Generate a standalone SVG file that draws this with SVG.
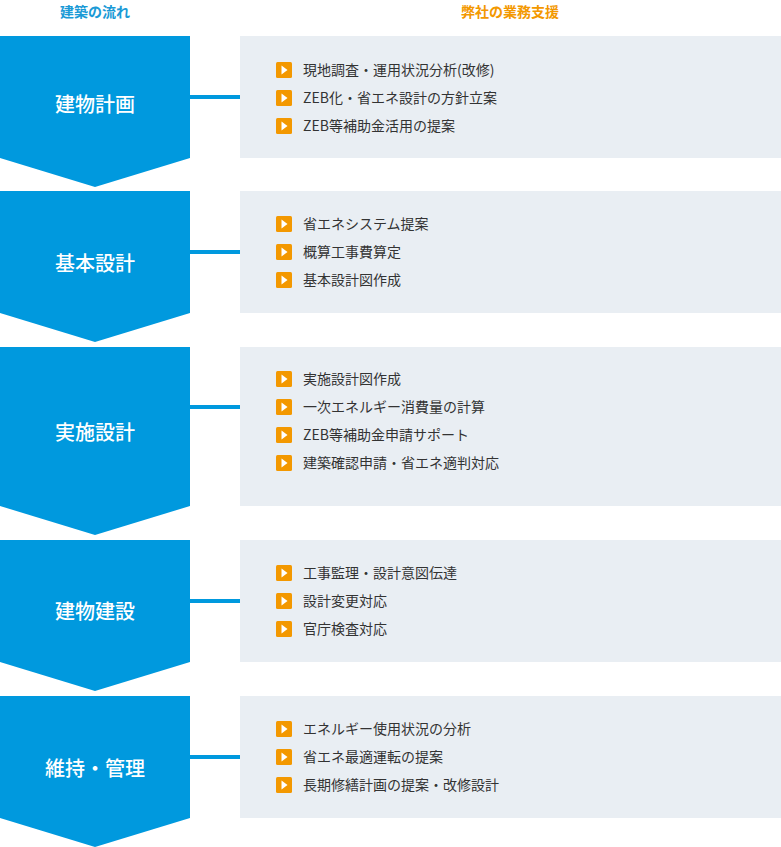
<svg xmlns="http://www.w3.org/2000/svg" width="781" height="847" viewBox="0 0 781 847">
<style>
.a{fill:#0099de}.p{fill:#e9eef3}.t{font-family:"Noto Sans CJK JP","Noto Sans",sans-serif;font-size:20px;fill:#fff;text-anchor:middle;font-weight:500}
.i{font-family:"Noto Sans CJK JP","Noto Sans",sans-serif;font-size:14px;fill:#333}
.h{font-family:"Noto Sans CJK JP",sans-serif;font-size:14px;font-weight:700;text-anchor:middle}
.c{stroke:#0099de;stroke-width:4}
</style>
<defs><g id="ic"><rect x="0" y="-8" width="16" height="16" rx="1.5" fill="#f39800"/><path d="M5.5 -4.5 L11.5 0 L5.5 4.5Z" fill="#fff"/></g></defs>
<text class="h" x="95" y="17" fill="#1a9ad6">建築の流れ</text>
<text class="h" x="510" y="17" fill="#f39800">弊社の業務支援</text>
<g id="connectors">
<line class="c" x1="190" y1="97" x2="240" y2="97"/>
<line class="c" x1="190" y1="252" x2="240" y2="252"/>
<line class="c" x1="190" y1="407" x2="240" y2="407"/>
<line class="c" x1="190" y1="601" x2="240" y2="601"/>
<line class="c" x1="190" y1="757" x2="240" y2="757"/>
</g>
<g id="n1"><path class="a" d="M0 36H190V158L95 187L0 158Z"/><text class="t" x="95" y="112">建物計画</text>
<rect class="p" x="240" y="36" width="541" height="122"/>
<use href="#ic" x="276" y="70"/><text class="i" x="303" y="75">現地調査・運用状況分析(改修)</text>
<use href="#ic" x="276" y="98"/><text class="i" x="303" y="103">ZEB化・省エネ設計の方針立案</text>
<use href="#ic" x="276" y="126"/><text class="i" x="303" y="131">ZEB等補助金活用の提案</text></g>
<g id="n2"><path class="a" d="M0 191H190V313L95 342L0 313Z"/><text class="t" x="95" y="271">基本設計</text>
<rect class="p" x="240" y="191" width="541" height="122"/>
<use href="#ic" x="276" y="224"/><text class="i" x="303" y="229">省エネシステム提案</text>
<use href="#ic" x="276" y="252"/><text class="i" x="303" y="257">概算工事費算定</text>
<use href="#ic" x="276" y="280"/><text class="i" x="303" y="285">基本設計図作成</text></g>
<g id="n3"><path class="a" d="M0 347H190V506L95 535L0 506Z"/><text class="t" x="95" y="440">実施設計</text>
<rect class="p" x="240" y="347" width="541" height="159"/>
<use href="#ic" x="276" y="379"/><text class="i" x="303" y="384">実施設計図作成</text>
<use href="#ic" x="276" y="407"/><text class="i" x="303" y="412">一次エネルギー消費量の計算</text>
<use href="#ic" x="276" y="435"/><text class="i" x="303" y="440">ZEB等補助金申請サポート</text>
<use href="#ic" x="276" y="463"/><text class="i" x="303" y="468">建築確認申請・省エネ適判対応</text></g>
<g id="n4"><path class="a" d="M0 540H190V662L95 691L0 662Z"/><text class="t" x="95" y="619">建物建設</text>
<rect class="p" x="240" y="540" width="541" height="122"/>
<use href="#ic" x="276" y="573"/><text class="i" x="303" y="578">工事監理・設計意図伝達</text>
<use href="#ic" x="276" y="601"/><text class="i" x="303" y="606">設計変更対応</text>
<use href="#ic" x="276" y="629"/><text class="i" x="303" y="634">官庁検査対応</text></g>
<g id="n5"><path class="a" d="M0 696H190V818L95 847L0 818Z"/><text class="t" x="95" y="776">維持・管理</text>
<rect class="p" x="240" y="696" width="541" height="122"/>
<use href="#ic" x="276" y="729"/><text class="i" x="303" y="734">エネルギー使用状況の分析</text>
<use href="#ic" x="276" y="757"/><text class="i" x="303" y="762">省エネ最適運転の提案</text>
<use href="#ic" x="276" y="785"/><text class="i" x="303" y="790">長期修繕計画の提案・改修設計</text></g>
</svg>
